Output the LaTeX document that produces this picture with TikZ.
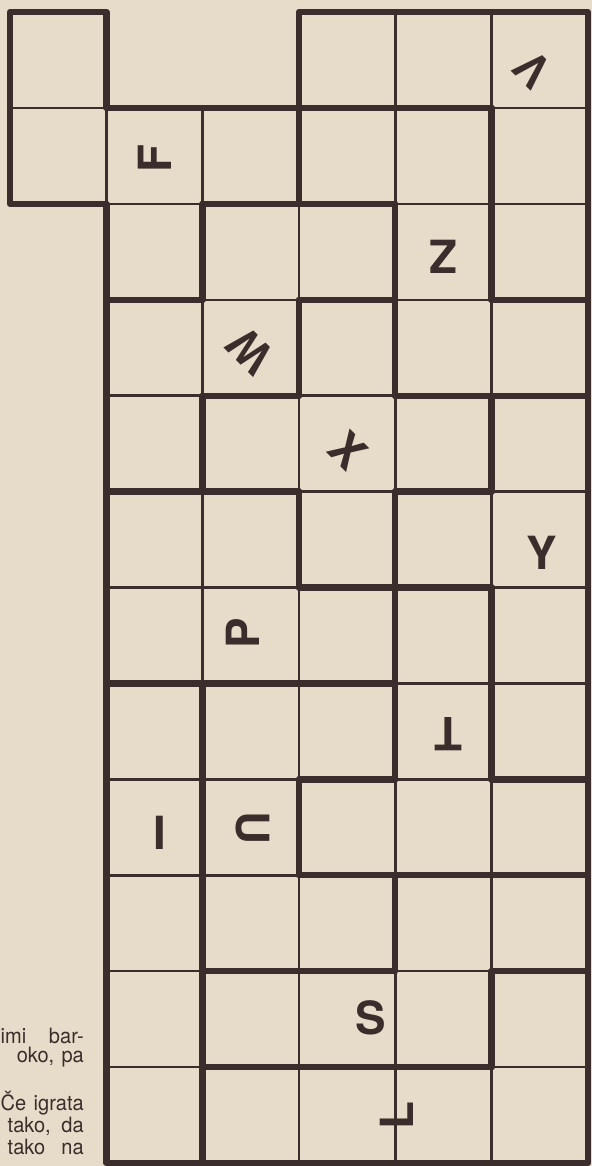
\documentclass[tikz,border=0pt]{standalone}
\usepackage{fontspec}
\setmainfont{TeX Gyre Heros}
\newfontfamily\prosefont[FakeStretch=0.95]{TeX Gyre Heros}
\usepackage{tikz}

\definecolor{paper}{HTML}{E6DCC9}
\definecolor{ink}{HTML}{3B2D2B}
\tikzset{
  thinline/.style={draw=ink, line width=0.7pt},
  piece/.style={draw=ink, line width=1.8pt, line join=round},
  letter/.style={text=ink, inner sep=0pt, font=\fontsize{13pt}{13pt}\selectfont\bfseries},
  prose/.style={text=ink, inner sep=0pt, anchor=base west, font=\prosefont\fontsize{6pt}{6.3pt}\selectfont}
}

\begin{document}
\begin{tikzpicture}[x=0.963cm, y=-0.959cm]
\fill[paper] (-0.104,-0.125) rectangle (6.042,12.031);
\useasboundingbox (-0.104,-0.125) rectangle (6.042,12.031);

% thin cell lines
\foreach \c in {0,3,4,5} \draw[thinline] (\c,0) rectangle ++(1,1);
\foreach \c in {0,...,5} \draw[thinline] (\c,1) rectangle ++(1,1);
\foreach \r in {2,...,11}
  \foreach \c in {1,...,5} \draw[thinline] (\c,\r) rectangle ++(1,1);

% piece outlines
\draw[piece] (0,0) -- (1,0) -- (1,1) -- (3,1) -- (3,2) -- (2,2) -- (2,3) -- (1,3) -- (1,2) -- (0,2) -- cycle;
\draw[piece] (3,0) -- (6,0) -- (6,3) -- (5,3) -- (5,1) -- (3,1) -- cycle;
\draw[piece] (3,1) -- (5,1) -- (5,3) -- (6,3) -- (6,4) -- (4,4) -- (4,2) -- (3,2) -- cycle;
\draw[piece] (2,2) -- (4,2) -- (4,3) -- (3,3) -- (3,4) -- (2,4) -- (2,5) -- (1,5) -- (1,3) -- (2,3) -- cycle;
\draw[piece] (3,3) -- (4,3) -- (4,4) -- (5,4) -- (5,5) -- (4,5) -- (4,6) -- (3,6) -- (3,5) -- (2,5) -- (2,4) -- (3,4) -- cycle;
\draw[piece] (5,4) -- (6,4) -- (6,8) -- (5,8) -- (5,6) -- (4,6) -- (4,5) -- (5,5) -- cycle;
\draw[piece] (1,5) -- (3,5) -- (3,6) -- (4,6) -- (4,7) -- (1,7) -- cycle;
\draw[piece] (4,6) -- (5,6) -- (5,8) -- (6,8) -- (6,9) -- (3,9) -- (3,8) -- (4,8) -- cycle;
\draw[piece] (2,7) -- (4,7) -- (4,8) -- (3,8) -- (3,9) -- (4,9) -- (4,10) -- (2,10) -- cycle;
\draw[piece] (1,7) -- (2,7) -- (2,12) -- (1,12) -- cycle;
\draw[piece] (4,9) -- (6,9) -- (6,10) -- (5,10) -- (5,11) -- (2,11) -- (2,10) -- (4,10) -- cycle;
\draw[piece] (5,10) -- (6,10) -- (6,12) -- (2,12) -- (2,11) -- (5,11) -- cycle;

% letters
\node[letter, rotate=90] (lf) at (1.5,1.53) {F};
\node[letter, rotate=135] (lv) at (5.43,0.6) {V};
\node[letter] (lz) at (4.5,2.55) {Z};
\node[letter, rotate=135] (lw) at (2.5,3.53) {W};
\node[letter, rotate=-45] (lx) at (3.51,4.57) {X};
\node[letter] (ly) at (5.52,5.64) {Y};
\node[letter, rotate=90] (lp) at (2.42,6.48) {P};
\node[letter, rotate=180] (lt) at (4.55,7.53) {T};
\node[letter] (li) at (1.56,8.56) {I};
\node[letter, rotate=-90] (lu) at (2.52,8.51) {U};
\node[letter] (ls) at (3.75,10.49) {S};
\node[letter, rotate=90] (ll) at (4.02,11.51) {L};

% text at the left margin
\node[prose] (t1) at (-0.104,10.749) {\makebox[0.83cm][s]{imi bar-}};
\node[prose] (t2) at (0.063,10.957) {\makebox[0.67cm][s]{oko, pa}};
\node[prose] (t3) at (-0.104,11.457) {\makebox[0.83cm][s]{Če igrata}};
\node[prose] (t4) at (-0.031,11.677) {\makebox[0.76cm][s]{tako, da}};
\node[prose] (t5) at (-0.031,11.906) {\makebox[0.76cm][s]{tako na}};
\end{tikzpicture}
\end{document}
